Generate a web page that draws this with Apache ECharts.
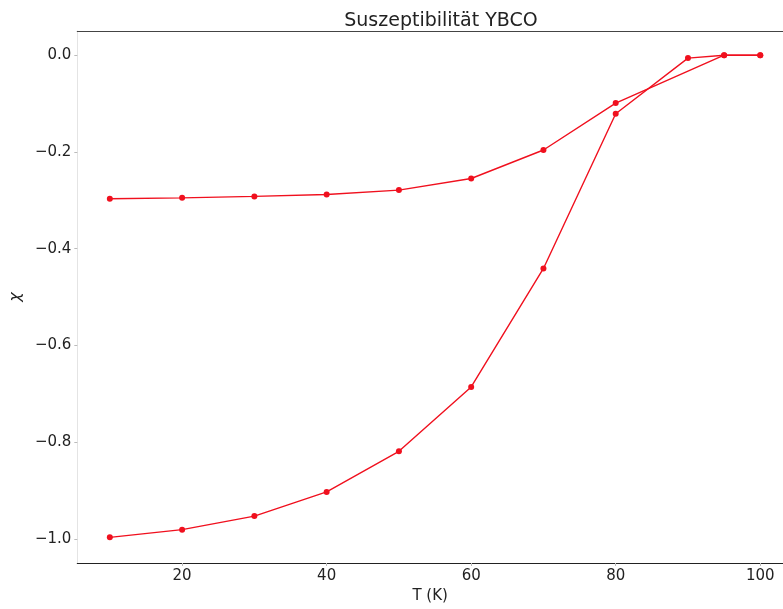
<!DOCTYPE html>
<html>
<head>
<meta charset="utf-8">
<script src="https://cdn.jsdelivr.net/npm/echarts@6/dist/echarts.min.js"></script>
<style>
  html, body { margin: 0; padding: 0; background: #fff; }
  #chart { width: 783px; height: 609px; }
</style>
</head>
<body>
<div id="chart"></div>
<script>
// Temperature (K) and susceptibility readings for the two branches
const tempUpper = [10, 20, 30, 40, 50, 60, 70, 80, 95, 100];
const chiUpper  = [-0.297, -0.295, -0.292, -0.288, -0.279, -0.255, -0.196, -0.099, 0.0, 0.0];

const tempLower = [10, 20, 30, 40, 50, 60, 70, 80, 90, 95, 100];
const chiLower  = [-0.997, -0.981, -0.953, -0.903, -0.819, -0.686, -0.441, -0.121, -0.006, 0.0, 0.0];

// Tick positions
const xTicks = [20, 40, 60, 80, 100];
const yTicks = [-1.0, -0.8, -0.6, -0.4, -0.2, 0.0];

const FONT = 'DejaVu Sans';
const LINE_RED = '#f0101e';

function pairs(xs, ys) { return xs.map((x, i) => [x, ys[i]]); }
function fmtY(v) {
  const s = Math.abs(v).toFixed(1);
  return (v < -1e-9 ? '\u2212' : '') + s;
}

const chart = echarts.init(document.getElementById('chart'), null, { renderer: 'canvas' });

const seriesStyle = {
  type: 'line',
  symbol: 'circle',
  symbolSize: 6,
  showSymbol: true,
  animation: false,
  lineStyle: { color: LINE_RED, width: 1.4 },
  itemStyle: { color: LINE_RED, borderWidth: 0 },
  emphasis: { disabled: true }
};

// the plot area runs past the right edge of the canvas, so the visible
// x range stops a little short of the full axis span
const X_MIN = 5.5, X_MAX = 103.15;

chart.setOption({
  backgroundColor: '#ffffff',
  animation: false,
  title: {
    text: 'Suszeptibilität YBCO',
    left: 436,
    textAlign: 'center',
    top: 7,
    textStyle: { fontFamily: FONT, fontSize: 19, fontWeight: 'normal', color: '#222' }
  },
  grid: { left: 77, top: 31, right: 0, bottom: 40, containLabel: false },
  xAxis: [{
    type: 'value',
    min: X_MIN,
    max: X_MAX,
    name: 'T (K)',
    nameLocation: 'middle',
    nameGap: 26,
    nameTextStyle: { fontFamily: FONT, fontSize: 15, color: '#222' },
    splitLine: { show: false },
    axisLine: { show: true, onZero: false, lineStyle: { color: '#222', width: 1.2 } },
    axisTick: { show: true, customValues: xTicks, length: 3, lineStyle: { color: '#bbb' } },
    axisLabel: { customValues: xTicks, margin: 6, fontFamily: FONT, fontSize: 15, color: '#222' }
  }, {
    type: 'value',
    position: 'top',
    min: X_MIN,
    max: X_MAX,
    splitLine: { show: false },
    axisLine: { show: true, onZero: false, lineStyle: { color: '#444', width: 1.2 } },
    axisTick: { show: false },
    axisLabel: { show: false }
  }],
  yAxis: {
    type: 'value',
    min: -1.05,
    max: 0.05,
    name: 'χ',
    nameLocation: 'middle',
    nameRotate: 90,
    nameGap: 50,
    nameTextStyle: { fontFamily: FONT, fontSize: 16, fontStyle: 'italic', color: '#222' },
    splitLine: { show: false },
    axisLine: { show: true, onZero: false, lineStyle: { color: '#e4e4e4', width: 1 } },
    axisTick: { show: true, customValues: yTicks, length: 3, lineStyle: { color: '#bbb' } },
    axisLabel: { customValues: yTicks, margin: 6, formatter: fmtY, fontFamily: FONT, fontSize: 15, color: '#222' }
  },
  series: [
    Object.assign({ name: 'upper', data: pairs(tempUpper, chiUpper) }, seriesStyle),
    Object.assign({ name: 'lower', data: pairs(tempLower, chiLower) }, seriesStyle)
  ]
});
</script>
</body>
</html>
